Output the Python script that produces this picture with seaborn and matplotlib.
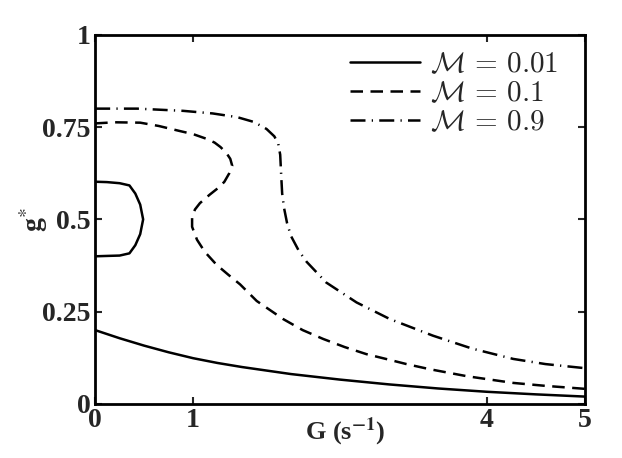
import matplotlib
matplotlib.use("Agg")
import matplotlib.pyplot as plt
import seaborn as sns

# --- data ---
m001_low_x = [0, 0.25, 0.5, 0.75, 1, 1.25, 1.5, 2, 2.5, 3, 3.5, 4, 4.5, 5]
m001_low_y = [0.2, 0.178, 0.158, 0.140, 0.124, 0.111, 0.100, 0.081, 0.066, 0.053,
              0.042, 0.033, 0.026, 0.02]

m001_loop_x = [0, 0.12, 0.25, 0.35, 0.41, 0.46, 0.49, 0.46, 0.41, 0.35, 0.25, 0.12, 0]
m001_loop_y = [0.602, 0.601, 0.598, 0.592, 0.57, 0.54, 0.5, 0.46, 0.43, 0.408,
               0.402, 0.401, 0.4]

m01_x = [0, 0.2, 0.46, 0.65, 0.87, 1.0, 1.14, 1.22, 1.28, 1.34, 1.38, 1.40, 1.37,
         1.32, 1.27, 1.17, 1.07, 1.02, 0.99, 0.99, 1.04, 1.12, 1.24, 1.36, 1.48,
         1.65, 1.92, 2.12, 2.33, 2.55, 2.77, 3.0, 3.18, 3.42, 3.8, 4.27, 4.6, 5]
m01_y = [0.76, 0.763, 0.762, 0.753, 0.739, 0.731, 0.718, 0.708, 0.696, 0.68, 0.664,
         0.645, 0.625, 0.602, 0.588, 0.567, 0.544, 0.527, 0.508, 0.48, 0.445, 0.412,
         0.377, 0.35, 0.324, 0.279, 0.23, 0.2, 0.176, 0.154, 0.135, 0.12, 0.108,
         0.094, 0.075, 0.057, 0.049, 0.041]

m09_x = [0, 0.43, 0.9, 1.2, 1.45, 1.62, 1.75, 1.83, 1.87, 1.89, 1.90, 1.91, 1.93,
         1.96, 2.0, 2.08, 2.16, 2.36, 2.67, 3.01, 3.45, 3.85, 4.27, 4.6, 5]
m09_y = [0.80, 0.80, 0.794, 0.787, 0.777, 0.764, 0.745, 0.725, 0.705, 0.675, 0.62,
         0.57, 0.53, 0.49, 0.455, 0.415, 0.385, 0.329, 0.275, 0.23, 0.185, 0.15,
         0.122, 0.108, 0.097]

x_ticks = [0, 1, 4, 5]
x_ticklabels = ["0", "1", "4", "5"]
y_ticks = [0, 0.25, 0.5, 0.75, 1]
y_ticklabels = ["0", "0.25", "0.5", "0.75", "1"]
labels = [r"$\mathcal{M}\,=\,0.01$", r"$\mathcal{M}\,=\,0.1$", r"$\mathcal{M}\,=\,0.9$"]

sns.set_style("white")
plt.rcParams["mathtext.fontset"] = "cm"
plt.rcParams["font.family"] = ["Liberation Serif", "DejaVu Serif"]

fig = plt.figure(figsize=(6.22, 4.58), dpi=100)
ax = fig.add_axes([0.153, 0.118, 0.787, 0.806])

lw = 1.8
sns.lineplot(x=m001_low_x, y=m001_low_y, ax=ax, color="black", lw=lw, sort=False,
             estimator=None, label=labels[0])
sns.lineplot(x=m001_loop_x, y=m001_loop_y, ax=ax, color="black", lw=lw, sort=False,
             estimator=None)
l2 = sns.lineplot(x=m01_x, y=m01_y, ax=ax, color="black", lw=lw, sort=False,
                  estimator=None, label=labels[1]).lines[-1]
l2.set_dashes((5, 3))
l3 = sns.lineplot(x=m09_x, y=m09_y, ax=ax, color="black", lw=lw, sort=False,
                  estimator=None, label=labels[2]).lines[-1]
l3.set_dashes((6, 2.5, 0.5, 2.5))

ax.set_xlim(0, 5)
ax.set_ylim(0, 1)
ax.set_xticks(x_ticks)
ax.set_xticklabels(x_ticklabels)
ax.set_yticks(y_ticks)
ax.set_yticklabels(y_ticklabels)
for t in ax.get_xticklabels() + ax.get_yticklabels():
    t.set_fontweight("bold")
    t.set_fontsize(20)
ax.tick_params(direction="in", length=5, width=1.5, top=True, right=True,
               bottom=True, left=True, pad=3)
for s in ax.spines.values():
    s.set_linewidth(2)
    s.set_color("black")

ax.set_xlabel(r"G (s$^{\mathbf{-1}}$)", fontsize=19, fontweight="bold",
              math_fontfamily="stix")
ax.xaxis.set_label_coords(0.51, -0.03)
ax.set_ylabel(r"g$^{*}$", fontsize=20, fontweight="bold", math_fontfamily="stix")
ax.yaxis.set_label_coords(-0.092, 0.5)

ax.legend(loc="upper right", bbox_to_anchor=(0.975, 0.993), frameon=False,
          fontsize=21, handlelength=2.4, labelspacing=0.08, borderaxespad=0.1,
          handletextpad=0.35)

fig.savefig("out.png", dpi=100)
